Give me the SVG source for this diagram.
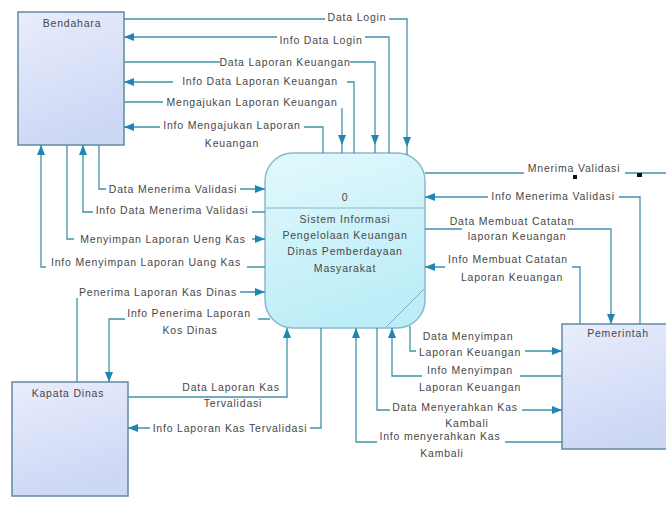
<svg xmlns="http://www.w3.org/2000/svg" width="666" height="507" viewBox="0 0 666 507">
<defs>
<linearGradient id="entFill" x1="0" y1="0" x2="0.3" y2="1">
<stop offset="0" stop-color="#e9edfc"/><stop offset="1" stop-color="#cdd8f5"/>
</linearGradient>
<linearGradient id="procFill" x1="0" y1="0" x2="0.3" y2="1">
<stop offset="0" stop-color="#e2f9fd"/><stop offset="1" stop-color="#bdedf7"/>
</linearGradient>
<marker id="arr" viewBox="0 0 10 8" refX="10" refY="4" markerWidth="10" markerHeight="8" markerUnits="userSpaceOnUse" orient="auto">
<path d="M0,0 L10,4 L0,8 Z" fill="#1f86b3"/>
</marker>
<marker id="arrOff" viewBox="0 0 18 8" refX="18" refY="4" markerWidth="18" markerHeight="8" markerUnits="userSpaceOnUse" orient="auto">
<path d="M0,0 L10,4 L0,8 Z" fill="#1f86b3"/>
</marker>
</defs>
<style>
.ent{fill:url(#entFill);stroke:#5f8aa3;stroke-width:1.5}
.proc{fill:url(#procFill);stroke:#8ab8d0;stroke-width:1.5}
.t{font-family:"Liberation Sans",Arial,sans-serif;font-size:10.5px;fill:#474747;letter-spacing:0.8px;text-anchor:middle}
.ln{fill:none;stroke:#4291ac;stroke-width:1.3}
.a{marker-end:url(#arr)}
.ao{marker-end:url(#arrOff)}
</style>
<rect width="666" height="507" fill="#ffffff"/>

<g id="bendahara">
<rect class="ent" x="18" y="12" width="106" height="133"/>
<text class="t" x="72" y="27">Bendahara</text>
</g>
<g id="kapata-dinas">
<rect class="ent" x="12" y="382" width="116" height="114"/>
<text class="t" x="68" y="397">Kapata Dinas</text>
</g>
<g id="pemerintah">
<rect class="ent" x="562" y="324" width="108" height="125"/>
<text class="t" x="618" y="337">Pemerintah</text>
</g>
<g id="process">
<rect class="proc" x="265" y="153" width="160" height="175" rx="28" ry="28"/>
<line x1="265" y1="208" x2="425" y2="208" stroke="#8ab8d0" stroke-width="1.2"/>
<line x1="424" y1="289" x2="386" y2="327" stroke="#7ab0cc" stroke-width="1"/>
<text class="t" x="345" y="201">0</text>
<text class="t" x="345" y="223">Sistem Informasi</text>
<text class="t" x="345" y="239">Pengelolaan Keuangan</text>
<text class="t" x="345" y="255">Dinas Pemberdayaan</text>
<text class="t" x="345" y="272">Masyarakat</text>
</g>

<g id="connectors">
<path class="ln ao" d="M124,19 L325,19 M389,19 L407,19 L407,155"/>
<path class="ln a" d="M389,153 L389,37 L365,37 M277,37 L124,37"/>
<path class="ln ao" d="M124,62 L220,62 M350,62 L375,62 L375,153"/>
<path class="ln a" d="M354,153 L354,82 L347,82 M173,82 L124,82"/>
<path class="ln ao" d="M124,102 L163,102 M342,108 L342,153"/>
<path class="ln a" d="M323,153 L323,127 L304,127 M160,127 L124,127"/>

<path class="ln a" d="M99,145 L99,189 L106,189 M240,189 L265,189"/>
<path class="ln a" d="M265,212 L252,212 M93,212 L83,212 L83,145"/>
<path class="ln a" d="M67,145 L67,239 L74,239 M252,239 L265,239"/>
<path class="ln a" d="M265,267 L247,267 M46,267 L41,267 L41,145"/>

<path class="ln a" d="M77,382 L77,298 M240,292 L265,292"/>
<path class="ln a" d="M270,319 L258,319 M125,319 L109,319 L109,382"/>
<path class="ln a" d="M128,397 L287,397 L287,328"/>
<path class="ln a" d="M321,328 L321,428 L310,428 M150,428 L128,428"/>

<path class="ln a" d="M410,326 L410,351 L416,351 M525,351 L562,351"/>
<path class="ln a" d="M562,376 L520,376 M422,376 L392,376 L392,328"/>
<path class="ln a" d="M377,328 L377,410 L390,410 M522,410 L562,410"/>
<path class="ln a" d="M562,442 L505,442 M377,442 L356,442 L356,328"/>

<path class="ln" d="M425,173 L524,173 M625,173 L666,173"/>
<rect x="573" y="175" width="4" height="4" fill="#111"/>
<rect x="637" y="173" width="5" height="4" fill="#111"/>
<path class="ln a" d="M640,324 L640,197 L619,197 M488,197 L425,197"/>
<path class="ln a" d="M425,229 L462,229 M567,229 L611,229 L611,324"/>
<path class="ln a" d="M580,324 L580,267 L572,267 M445,267 L425,267"/>
</g>

<g id="labels">
<text class="t" x="357" y="21">Data Login</text>
<text class="t" x="321" y="44">Info Data Login</text>
<text class="t" x="285" y="66">Data Laporan Keuangan</text>
<text class="t" x="260" y="85">Info Data Laporan Keuangan</text>
<text class="t" x="252" y="106">Mengajukan Laporan Keuangan</text>
<text class="t" x="232" y="129">Info Mengajukan Laporan</text>
<text class="t" x="232" y="147">Keuangan</text>

<text class="t" x="173" y="193">Data Menerima Validasi</text>
<text class="t" x="172" y="214">Info Data Menerima Validasi</text>
<text class="t" x="163" y="243">Menyimpan Laporan Ueng Kas</text>
<text class="t" x="146" y="266">Info Menyimpan Laporan Uang Kas</text>

<text class="t" x="158" y="296">Penerima Laporan Kas Dinas</text>
<text class="t" x="189" y="317">Info Penerima Laporan</text>
<text class="t" x="190" y="334">Kos Dinas</text>
<text class="t" x="231" y="391">Data Laporan Kas</text>
<text class="t" x="233" y="407">Tervalidasi</text>
<text class="t" x="230" y="432">Info Laporan Kas Tervalidasi</text>

<text class="t" x="468" y="340">Data Menyimpan</text>
<text class="t" x="470" y="356">Laporan Keuangan</text>
<text class="t" x="470" y="374">Info Menyimpan</text>
<text class="t" x="470" y="391">Laporan Keuangan</text>
<text class="t" x="455" y="411">Data Menyerahkan Kas</text>
<text class="t" x="467" y="427">Kambali</text>
<text class="t" x="440" y="440">Info menyerahkan Kas</text>
<text class="t" x="442" y="457">Kambali</text>

<text class="t" x="574" y="172">Mnerima Validasi</text>
<text class="t" x="553" y="200">Info Menerima Validasi</text>
<text class="t" x="512" y="225">Data Membuat Catatan</text>
<text class="t" x="517" y="240">laporan Keuangan</text>
<text class="t" x="508" y="263">Info Membuat Catatan</text>
<text class="t" x="512" y="281">Laporan Keuangan</text>
</g>
</svg>
